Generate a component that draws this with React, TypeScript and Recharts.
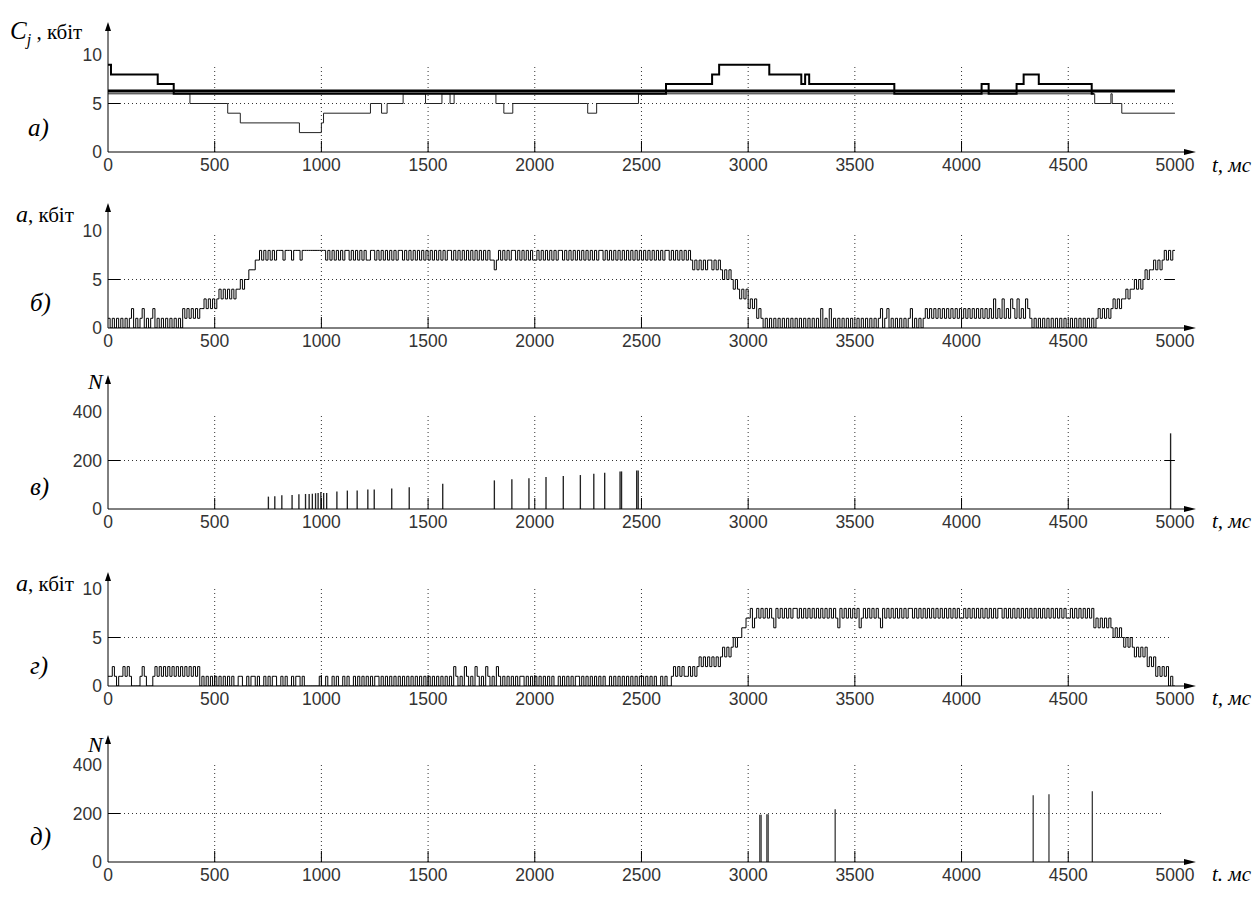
import React from 'react';
import { ComposedChart, Line, Bar, XAxis, YAxis, ReferenceLine } from 'recharts';

const timeTicks = [0, 500, 1000, 1500, 2000, 2500, 3000, 3500, 4000, 4500, 5000];
const rateTicks = [0, 5, 10];
const countTicks = [0, 200, 400];

// а) channel capacity, kbit: [t ms, value] change points
const meanLevel: [number, number][] = [[0, 6.3], [5000, 6.3]];
const upperChannel: [number, number][] = [
  [0, 9], [14, 8], [233, 7], [308, 6], [2615, 7], [2831, 8], [2864, 9], [3099, 8],
  [3249, 7], [3267, 8], [3286, 7], [3685, 6], [4094, 7], [4127, 6], [4258, 7],
  [4291, 8], [4362, 7], [4610, 6], [4620, 6],
];
const lowerChannel: [number, number][] = [
  [0, 6], [384, 5], [561, 4], [620, 3], [897, 2], [1000, 3], [1010, 4], [1230, 5],
  [1282, 4], [1308, 5], [1383, 6], [1488, 5], [1565, 6], [1603, 5], [1622, 6],
  [1818, 5], [1855, 4], [1897, 5], [2248, 4], [2290, 5], [2486, 6], [4624, 5],
  [4700, 6], [4706, 5], [4751, 4], [5000, 4],
];

// б) rate a, kbit — 10 ms bins, one row per 500 ms
const rateB = [
  '1010101010 1201012010 1201010101 0101021 21212122 32323',
  '23 434343434 4545 566 677 87878787888788878887 888888888',
  '88 7878787878 8787878787 7887878787 8787887878 78787878',
  '7878787878 8787878787 8787878787 76 7878787887 87878787',
  '7878787878 7887878787 8787878787 8878787878 7878787878',
  '7878787878 7887878787 878 76767676776767 656565 454 3434',
  '2323 121 010101010101010101010101010 2 010 2 01010101010',
  '010101010101 2 01 2 0101010101 2 010101 21212121212121212',
  '121212121212121 3 121 3 121 3 21 3 121 3 21 01010101010101010',
  '0101010101010 1212121 232323 3434 45454 5656 67676 787878',
];

// г) rate a, kbit — 10 ms bins, one row per 500 ms
const rateG = [
  '1121011212 1000012100 0121212121 2121212121212 0101010',
  '1010101010 0110010110 1001010110 0101001011 01 00000001',
  '00 1001010010 1001010101 0101101010 1010101010 10101010',
  '101010101010 2101021010210102101021 0101010101101010',
  '1010101010 0101010101 1010101010 1010010101 0101010101',
  '10101010010100 121212112121 23232323232 34343 4545 56 67',
  '78 6 787878787 6 8787878788 7878787878 787878787 6 8787878',
  '78 6 787878787 6 8787878787 8788787878 7878787878 7878787',
  '7878787878 7878787887 8787878787 8787878787 8787878787',
  '787878787878 676767676 56565 45454 343434 2323 121212 010',
];

// в) N: [t ms, N]
const countsV: [number, number][] = [
  [752, 51], [782, 53], [815, 57], [863, 58], [895, 61], [926, 62], [943, 62],
  [958, 63], [973, 65], [985, 66], [998, 70], [1011, 66], [1025, 66], [1073, 72],
  [1122, 76], [1168, 76], [1218, 80], [1248, 80], [1330, 85], [1412, 90],
  [1569, 104], [1811, 118], [1893, 123], [1973, 127], [2053, 132], [2134, 136],
  [2214, 140], [2277, 145], [2328, 150], [2400, 155], [2407, 155], [2478, 159],
  [2485, 159], [4980, 312],
];

// д) N: [t ms, N]
const countsD: [number, number][] = [
  [3055, 195], [3061, 195], [3088, 197], [3094, 197], [3408, 218], [4336, 275],
  [4410, 279], [4613, 292],
];

const WIDTH = 1259;
const LEFT = 108;
const RIGHT_EDGE = 1192;
const X_MAX = 5080;
const M_TOP = 8;
const X_H = 30;
const RATE_PX = 9.7;
const COUNT_PX = 9.7 / 40;

const tickFont = "'Liberation Sans', Arial, sans-serif";
const serif = "'Liberation Serif', 'Times New Roman', serif";

const steps = (pts: [number, number][]) => pts.map(([t, v]) => ({ t, v }));
const bins = (rows: string[]) => {
  const out: { t: number; v: number }[] = [];
  rows.forEach((row, r) =>
    row.replace(/\s/g, '').split('').forEach((c, i) => out.push({ t: r * 500 + i * 10, v: Number(c) }))
  );
  out.push({ t: 5000, v: out[out.length - 1].v });
  return out;
};
const bars = (pts: [number, number][]) => pts.map(([t, n]) => ({ t, n }));

const TimeTick = (props: any) => {
  const { x, y, payload } = props;
  const v = payload.value;
  return (
    <g>
      {v > 0 && v < 5000 && <line x1={x} x2={x} y1={y} y2={y - 11} stroke="#000" strokeWidth={1} />}
      <text x={x} y={y + 19} textAnchor="middle" fontSize={17.5} fontFamily={tickFont} fill="#333">
        {v}
      </text>
    </g>
  );
};

const makeValueTick = (mid: number) => (props: any) => {
  const { x, y, payload } = props;
  return (
    <g>
      {payload.value === mid && <line x1={x} x2={x + 12} y1={y} y2={y} stroke="#000" strokeWidth={1} />}
      <text x={x - 6} y={y} dy="0.35em" textAnchor="end" fontSize={17.5} fontFamily={tickFont} fill="#333">
        {payload.value}
      </text>
    </g>
  );
};

function frame(id: string, yMax: number, yTicks: number[], mid: number, gridTop: number, gridEnd: number, rightTick: boolean) {
  const items: any[] = [
    <defs key="defs">
      <marker id={`xa-${id}`} markerWidth="12" markerHeight="6" refX="8" refY="3" orient="auto" markerUnits="userSpaceOnUse">
        <path d="M0,0 L12,3 L0,6 z" fill="#000" />
      </marker>
      <marker id={`ya-${id}`} markerWidth="9" markerHeight="6" refX="6" refY="3" orient="auto-start-reverse" markerUnits="userSpaceOnUse">
        <path d="M0,0 L9,3 L0,6 z" fill="#000" />
      </marker>
    </defs>,
    <XAxis
      key="x"
      type="number"
      dataKey="t"
      domain={[0, X_MAX]}
      ticks={timeTicks}
      interval={0}
      allowDataOverflow
      height={X_H}
      tickSize={0}
      tickMargin={0}
      tickLine={false}
      tick={TimeTick}
      axisLine={{ stroke: '#000', strokeWidth: 1, markerEnd: `url(#xa-${id})` }}
    />,
    <YAxis
      key="y"
      type="number"
      domain={[0, yMax]}
      ticks={yTicks}
      interval={0}
      allowDataOverflow
      width={LEFT}
      tickSize={0}
      tickMargin={0}
      tickLine={false}
      tick={makeValueTick(mid)}
      axisLine={{ stroke: '#000', strokeWidth: 1, markerStart: `url(#ya-${id})` }}
    />,
    ...timeTicks
      .filter((t) => t > 0 && t < 5000)
      .map((t) => (
        <ReferenceLine
          key={`g${t}`}
          segment={[{ x: t, y: 0 }, { x: t, y: gridTop }]}
          stroke="#333"
          strokeDasharray="1 3"
        />
      )),
    <ReferenceLine key="h" segment={[{ x: 0, y: mid }, { x: gridEnd, y: mid }]} stroke="#333" strokeDasharray="1 3" />,
  ];
  if (rightTick) {
    items.push(<ReferenceLine key="rt" segment={[{ x: 4950, y: mid }, { x: 5000, y: mid }]} stroke="#000" />);
  }
  return items;
}

const Txt = ({ left, cy, children, style }: any) => (
  <div
    style={{
      position: 'absolute',
      left,
      top: cy,
      transform: 'translateY(-50%)',
      whiteSpace: 'nowrap',
      fontFamily: serif,
      color: '#000',
      lineHeight: 1,
      ...style,
    }}
  >
    {children}
  </div>
);

const chartBox = (tip: number, axis: number) => ({
  style: { position: 'absolute' as const, left: 0, top: tip - M_TOP },
  height: axis - tip + M_TOP + X_H,
});

export default function App() {
  const pa = { tip: 25, axis: 152 };
  const pb = { tip: 206, axis: 328 };
  const pv = { tip: 378, axis: 509 };
  const pg = { tip: 575, axis: 686 };
  const pd = { tip: 738, axis: 862 };
  const margin = { top: M_TOP, right: WIDTH - RIGHT_EDGE, bottom: 0, left: 0 };
  const ital = { fontStyle: 'italic' };

  const boxA = chartBox(pa.tip, pa.axis);
  const boxB = chartBox(pb.tip, pb.axis);
  const boxV = chartBox(pv.tip, pv.axis);
  const boxG = chartBox(pg.tip, pg.axis);
  const boxD = chartBox(pd.tip, pd.axis);

  return (
    <div style={{ position: 'absolute', left: 0, top: 0, width: WIDTH, height: 899, background: '#fff', overflow: 'hidden' }}>
      {/* а) */}
      <div style={boxA.style}>
        <ComposedChart width={WIDTH} height={boxA.height} margin={margin}>
          {frame('a', (pa.axis - pa.tip) / RATE_PX, rateTicks, 5, 9.0, 5000, false)}
          <Line data={steps(lowerChannel)} dataKey="v" type="stepAfter" stroke="#222" strokeWidth={1} dot={false} isAnimationActive={false} />
          <Line data={steps(upperChannel)} dataKey="v" type="stepAfter" stroke="#000" strokeWidth={2} dot={false} isAnimationActive={false} />
          <Line data={steps(meanLevel)} dataKey="v" type="linear" stroke="#000" strokeWidth={3} dot={false} isAnimationActive={false} />
        </ComposedChart>
      </div>

      {/* б) */}
      <div style={boxB.style}>
        <ComposedChart width={WIDTH} height={boxB.height} margin={margin}>
          {frame('b', (pb.axis - pb.tip) / RATE_PX, rateTicks, 5, 9.6, 4950, true)}
          <Line data={bins(rateB)} dataKey="v" type="stepAfter" stroke="#000" strokeWidth={1} dot={false} isAnimationActive={false} />
        </ComposedChart>
      </div>

      {/* в) */}
      <div style={boxV.style}>
        <ComposedChart width={WIDTH} height={boxV.height} margin={margin} data={bars(countsV)}>
          {frame('v', (pv.axis - pv.tip) / COUNT_PX, countTicks, 200, 386, 4950, true)}
          <Bar dataKey="n" barSize={1.5} fill="#222" isAnimationActive={false} />
        </ComposedChart>
      </div>

      {/* г) */}
      <div style={boxG.style}>
        <ComposedChart width={WIDTH} height={boxG.height} margin={margin}>
          {frame('g', (pg.axis - pg.tip) / RATE_PX, rateTicks, 5, 10, 4975, false)}
          <Line data={bins(rateG)} dataKey="v" type="stepAfter" stroke="#000" strokeWidth={1} dot={false} isAnimationActive={false} />
        </ComposedChart>
      </div>

      {/* д) */}
      <div style={boxD.style}>
        <ComposedChart width={WIDTH} height={boxD.height} margin={margin} data={bars(countsD)}>
          {frame('d', (pd.axis - pd.tip) / COUNT_PX, countTicks, 200, 405, 4940, false)}
          <Bar dataKey="n" barSize={1.5} fill="#222" isAnimationActive={false} />
        </ComposedChart>
      </div>

      {/* labels */}
      <Txt left={10} cy={30}>
        <span style={{ ...ital, fontSize: 25 }}>C</span>
        <span style={{ ...ital, fontSize: 16, position: 'relative', top: 6 }}>j</span>
        <span style={{ fontSize: 21 }}> , кбіт</span>
      </Txt>
      <Txt left={28} cy={127} style={{ ...ital, fontSize: 25 }}>а)</Txt>
      <Txt left={1212} cy={165} style={{ ...ital, fontSize: 21 }}>t, мс</Txt>

      <Txt left={16} cy={214}>
        <span style={{ ...ital, fontSize: 24 }}>a</span>
        <span style={{ fontSize: 21 }}>, кбіт</span>
      </Txt>
      <Txt left={30} cy={302} style={{ ...ital, fontSize: 25 }}>б)</Txt>

      <Txt left={88} cy={382} style={{ ...ital, fontSize: 22 }}>N</Txt>
      <Txt left={30} cy={486} style={{ ...ital, fontSize: 25 }}>в)</Txt>
      <Txt left={1212} cy={521} style={{ ...ital, fontSize: 21 }}>t, мс</Txt>

      <Txt left={16} cy={583}>
        <span style={{ ...ital, fontSize: 24 }}>a</span>
        <span style={{ fontSize: 21 }}>, кбіт</span>
      </Txt>
      <Txt left={30} cy={665} style={{ ...ital, fontSize: 25 }}>г)</Txt>
      <Txt left={1212} cy={698} style={{ ...ital, fontSize: 21 }}>t, мс</Txt>

      <Txt left={88} cy={745} style={{ ...ital, fontSize: 22 }}>N</Txt>
      <Txt left={30} cy={836} style={{ ...ital, fontSize: 25 }}>д)</Txt>
      <Txt left={1212} cy={874} style={{ ...ital, fontSize: 21 }}>t. мс</Txt>
    </div>
  );
}
